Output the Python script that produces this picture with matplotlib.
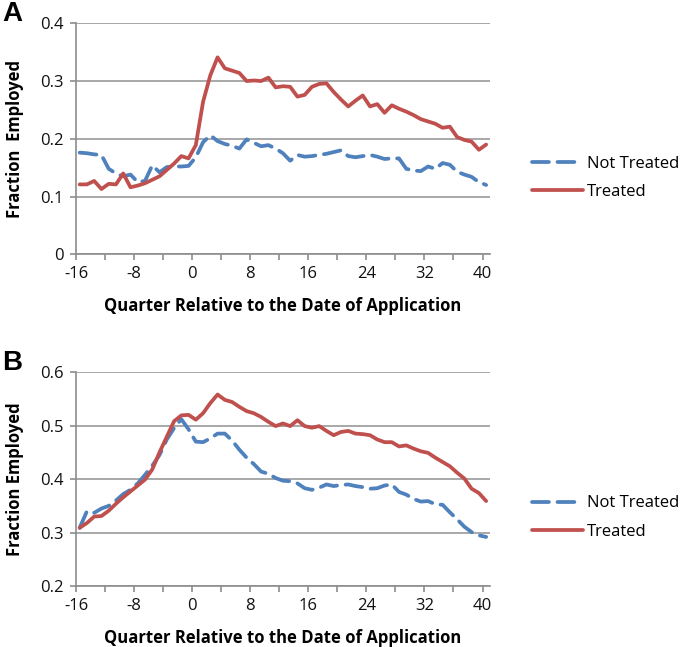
import matplotlib
matplotlib.use("Agg")
import matplotlib.pyplot as plt
import numpy as np
from matplotlib.ticker import FuncFormatter, MultipleLocator

plt.rcParams["font.family"] = ["Open Sans", "DejaVu Sans"]
plt.rcParams["axes.unicode_minus"] = False

# quarters relative to the date of application
quarters = np.arange(-16, 41)

# panel A
a_not_treated = [
    0.176, 0.175, 0.173, 0.172, 0.148, 0.140, 0.135, 0.138, 0.125, 0.127,
    0.154, 0.142, 0.151, 0.152, 0.152, 0.153, 0.168, 0.194, 0.206, 0.196,
    0.191, 0.188, 0.183, 0.199, 0.193, 0.187, 0.189, 0.183, 0.175, 0.162,
    0.172, 0.169, 0.170, 0.172, 0.174, 0.177, 0.180, 0.170, 0.168, 0.170,
    0.172, 0.169, 0.165, 0.166, 0.166, 0.148, 0.145, 0.144, 0.152, 0.148,
    0.158, 0.155, 0.143, 0.138, 0.134, 0.125, 0.120,
]
a_treated = [
    0.121, 0.121, 0.127, 0.113, 0.122, 0.121, 0.140, 0.116, 0.119, 0.123,
    0.129, 0.135, 0.146, 0.157, 0.170, 0.166, 0.189, 0.264, 0.310, 0.341,
    0.322, 0.318, 0.314, 0.300, 0.301, 0.300, 0.306, 0.289, 0.291, 0.290,
    0.273, 0.276, 0.290, 0.295, 0.296, 0.281, 0.268, 0.256, 0.266, 0.275,
    0.256, 0.260, 0.245, 0.258, 0.252, 0.247, 0.241, 0.234, 0.230, 0.226,
    0.219, 0.221, 0.203, 0.198, 0.195, 0.181, 0.190,
]

# panel B
b_not_treated = [
    0.309, 0.340, 0.337, 0.345, 0.350, 0.360, 0.372, 0.380, 0.392, 0.408,
    0.425, 0.445, 0.474, 0.495, 0.512, 0.493, 0.470, 0.469, 0.476, 0.485,
    0.485, 0.472, 0.455, 0.440, 0.428, 0.414, 0.410, 0.402, 0.397, 0.396,
    0.392, 0.383, 0.380, 0.384, 0.390, 0.387, 0.389, 0.390, 0.387, 0.385,
    0.382, 0.383, 0.388, 0.390, 0.376, 0.371, 0.363, 0.358, 0.359, 0.353,
    0.352, 0.338, 0.325, 0.311, 0.301, 0.295, 0.292,
]
b_treated = [
    0.309, 0.318, 0.330, 0.331, 0.341, 0.354, 0.366, 0.377, 0.388, 0.399,
    0.418, 0.450, 0.479, 0.508, 0.519, 0.520, 0.511, 0.523, 0.542, 0.558,
    0.548, 0.544, 0.535, 0.527, 0.523, 0.516, 0.507, 0.499, 0.504, 0.499,
    0.510, 0.499, 0.496, 0.499, 0.490, 0.482, 0.488, 0.490, 0.485, 0.484,
    0.482, 0.474, 0.469, 0.469, 0.461, 0.463, 0.457, 0.452, 0.449, 0.440,
    0.432, 0.424, 0.412, 0.401, 0.382, 0.374, 0.359,
]

x_ticks = [-16, -8, 0, 8, 16, 24, 32, 40]

BLUE = "#4f81bd"
RED = "#c0504d"
GRID = "#9a9a9a"
SPINE = "#8c8c8c"

fig = plt.figure(figsize=(6.85, 6.47), dpi=100)

panels = [
    # letter, series, y range, y label, axes rect, legend y, letter y
    ("A", a_not_treated, a_treated, (0, 0.4), "Fraction  Employed",
     [0.111, 0.607, 0.604, 0.357], 0.33, 1.04),
    ("B", b_not_treated, b_treated, (0.2, 0.6), "Fraction Employed",
     [0.111, 0.094, 0.604, 0.331], 0.32, 1.04),
]

for letter, not_treated, treated, ylim, ylabel, rect, leg_y, let_y in panels:
    ax = fig.add_axes(rect)
    # Excel places each category point half a quarter to the right of its tick
    xs = quarters + 0.5
    ax.plot(xs, not_treated, color=BLUE, lw=2.7, ls=(0, (4.5, 2.3)),
            dash_capstyle="round", solid_joinstyle="round", label="Not Treated")
    ax.plot(xs, treated, color=RED, lw=2.7, solid_joinstyle="round",
            solid_capstyle="round", label="Treated")

    ax.set_xlim(-16, 41)
    ax.set_ylim(*ylim)
    ax.set_xticks(x_ticks)
    ax.xaxis.set_minor_locator(MultipleLocator(4))
    ax.yaxis.set_major_locator(MultipleLocator(0.1))
    ax.yaxis.set_major_formatter(
        FuncFormatter(lambda v, _: "0" if abs(v) < 1e-9 else f"{v:.1f}")
    )
    ax.grid(axis="y", color=GRID, lw=1.2)
    ax.set_axisbelow(True)
    for side in ("top", "right"):
        ax.spines[side].set_visible(False)
    for side in ("left", "bottom"):
        ax.spines[side].set_color(SPINE)
        ax.spines[side].set_linewidth(1.2)
    ax.tick_params(axis="both", which="both", direction="out", color=SPINE,
                   width=1.2, labelsize=12, labelcolor="#111111")
    ax.tick_params(axis="both", which="major", length=4)
    ax.tick_params(axis="x", which="minor", length=4)
    ax.tick_params(axis="x", pad=4.5)
    ax.tick_params(axis="y", pad=5)

    ax.set_xlabel("Quarter Relative to the Date of Application",
                  fontsize=12, fontweight="bold", labelpad=11)
    ax.set_ylabel(ylabel, fontsize=12, fontweight="bold")
    ax.yaxis.set_label_coords(-0.125, 0.5)

    ax.legend(loc="center left", bbox_to_anchor=(1.065, leg_y), frameon=False,
              fontsize=12, handlelength=3.1, handletextpad=0.2,
              labelspacing=0.75)

    ax.text(-0.178, let_y, letter, transform=ax.transAxes, fontsize=20,
            fontweight="bold", family="Liberation Sans", va="center", ha="left")

fig.savefig("out.png", dpi=100)
